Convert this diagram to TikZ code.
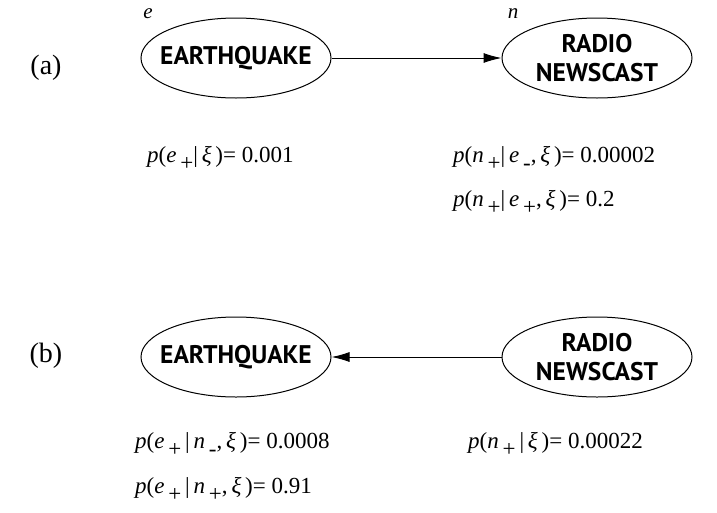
\documentclass[tikz,border=0pt]{standalone}
\usepackage{fontspec}
\setmainfont{Liberation Serif}
\newfontfamily\varfont{PT Sans}
\usetikzlibrary{shapes.geometric,arrows.meta,positioning}
\newcommand{\lo}[1]{\raisebox{-8pt}{#1}}
\newcommand{\iv}[1]{\textit{#1}}
\tikzset{
  var/.style={draw, line width=1pt, ellipse, minimum width=190pt, minimum height=80pt, inner xsep=-12pt, inner ysep=-3pt,
    align=center, font=\varfont\bfseries\fontsize{25.5}{29}\selectfont},
  prob/.style={anchor=base west, inner sep=0pt, font=\fontsize{23}{27}\selectfont},
  tag/.style={inner sep=0pt, font=\fontsize{28}{32}\selectfont},
  arc/.style={line width=1pt, -{Latex[length=18pt,width=10pt]}}
}

\begin{document}
\begin{tikzpicture}[x=1pt, y=-1pt]
    \useasboundingbox (0,0) rectangle (717,512);
    % (a) earthquake -> newscast
    \node[tag] (labA) at (46,68) {(a)};
    \node[var] (eqA) at (236,58) {EARTHQUAKE}; \node[var] (nwA) at (597,58) {RADIO\\NEWSCAST};
    \draw[arc] (eqA) -- (nwA);
    \node[tag, font=\fontsize{21}{24}\selectfont\itshape] (e) at (148,14) {e};
    \node[tag, font=\fontsize{21}{24}\selectfont\itshape] (n) at (513,14) {n};
    \node[prob] (pe) at (147,162) {\iv{p}(\iv{e}\,\lo{+}|\,\iv{ξ}\,)=\ 0.001};
    \node[prob] (pnm) at (453,162) {\iv{p}(\iv{n}\,\lo{+}|\,\iv{e}\,\lo{-},\,\iv{ξ}\,)=\ 0.00002};
    \node[prob] (pnp) at (453,206) {\iv{p}(\iv{n}\,\lo{+}|\,\iv{e}\,\lo{+},\,\iv{ξ}\,)=\ 0.2};
    % (b) newscast -> earthquake
    \node[tag] (labB) at (46,356) {(b)};
    \node[var] (eqB) at (236,357) {EARTHQUAKE}; \node[var] (nwB) at (597,357) {RADIO\\NEWSCAST};
    \draw[arc] (nwB) -- (eqB);
    \node[prob] (pem) at (135,448) {\iv{p}(\iv{e}\,\lo{+}\,|\,\iv{n}\,\lo{-},\,\iv{ξ}\,)=\ 0.0008};
    \node[prob] (pep) at (135,493) {\iv{p}(\iv{e}\,\lo{+}\,|\,\iv{n}\,\lo{+},\,\iv{ξ}\,)=\ 0.91};
    \node[prob] (pn) at (468,448) {\iv{p}(\iv{n}\,\lo{+}\,|\,\iv{ξ}\,)=\ 0.00022};
\end{tikzpicture}
\end{document}
